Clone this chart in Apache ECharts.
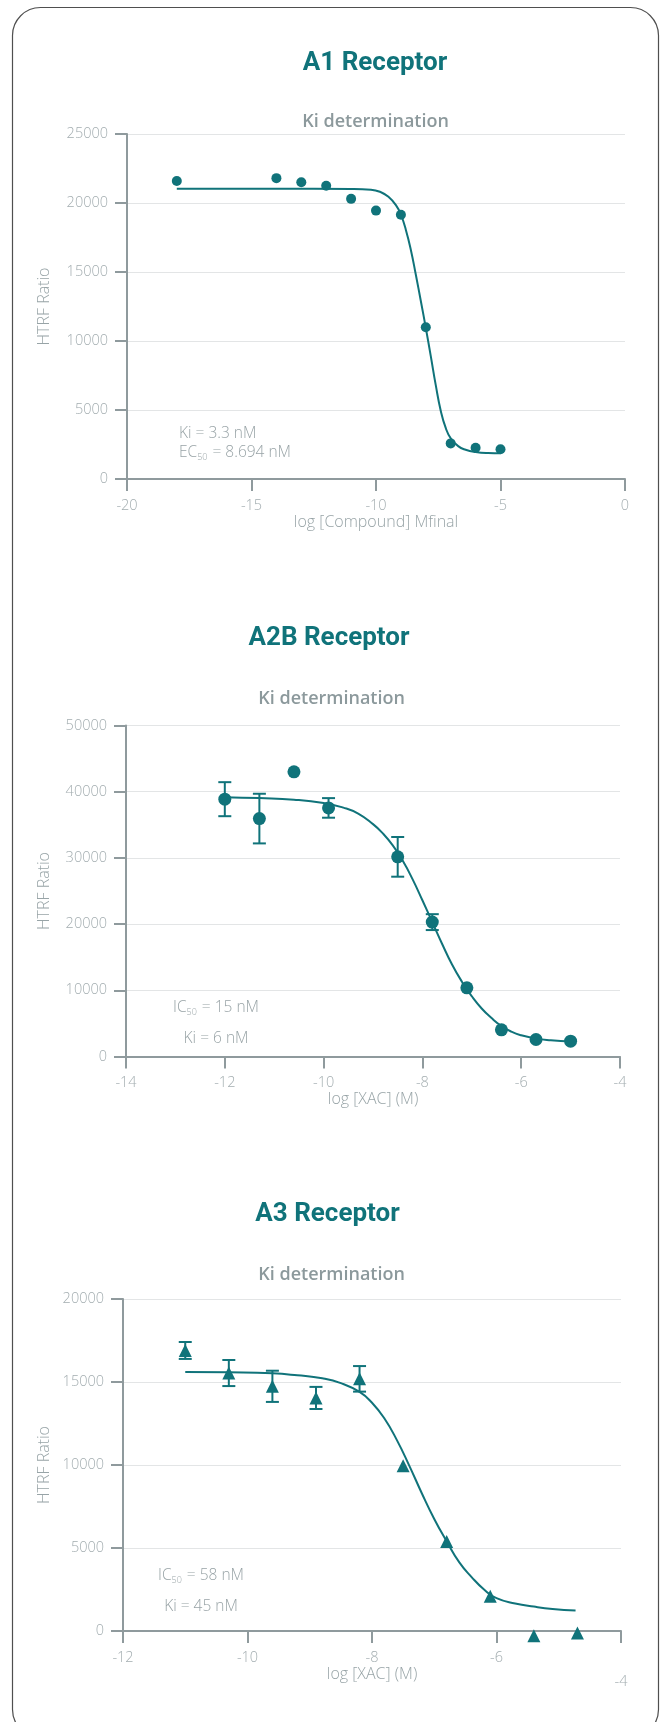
<!DOCTYPE html>
<html>
<head>
<meta charset="utf-8">
<title>Adenosine receptor Ki determination</title>
<script src="https://cdn.jsdelivr.net/npm/echarts@6.0.0/dist/echarts.min.js"></script>
<style>
  html, body { margin: 0; padding: 0; background: #ffffff; }
  #chart { width: 664px; height: 1722px; }
</style>
</head>
<body>
<div id="chart"></div>
<script>
// ---------- A1 receptor ----------
const a1XTicks = [-20, -15, -10, -5, 0];
const a1YTicks = [0, 5000, 10000, 15000, 20000, 25000];
const a1Log = [-18, -14, -13, -12, -11, -10, -9, -8, -7, -6, -5];
const a1Ratio = [21600, 21800, 21500, 21250, 20300, 19450, 19150, 11000, 2580, 2270, 2150];
const a1FitLog = [-18, -14, -11, -10.2, -9.8, -9.5, -9.2, -9.0, -8.8, -8.6, -8.4, -8.2, -8.0, -7.8, -7.6, -7.4, -7.2, -7.0, -6.7, -6.4, -6.0, -5.5, -5.0];
const a1FitRatio = [21040, 21030, 21010, 20960, 20780, 20450, 19850, 19150, 18050, 16600, 14800, 12900, 10950, 8900, 6800, 4950, 3700, 2950, 2380, 2120, 1960, 1880, 1860];

// ---------- A2B receptor ----------
const a2bXTicks = [-14, -12, -10, -8, -6, -4];
const a2bYTicks = [0, 10000, 20000, 30000, 40000, 50000];
const a2bLog = [-12, -11.3, -10.6, -9.9, -8.5, -7.8, -7.1, -6.4, -5.7, -5.0];
const a2bRatio = [38870, 35940, 43000, 37550, 30160, 20300, 10380, 4030, 2570, 2320];
const a2bSd = [2570, 3750, null, 1480, 3000, 1200, null, null, null, null];
const a2bFitLog = [-12, -11.3, -10.6, -10.0, -9.6, -9.3, -9.0, -8.8, -8.6, -8.4, -8.2, -8.0, -7.8, -7.6, -7.4, -7.2, -7.0, -6.8, -6.6, -6.4, -6.2, -6.0, -5.7, -5.4, -5.0];
const a2bFitRatio = [39170, 39030, 38800, 38300, 37600, 36700, 35100, 33700, 31900, 29600, 26800, 23600, 20300, 17000, 13900, 11300, 9100, 7250, 5800, 4600, 3750, 3200, 2700, 2450, 2270];

// ---------- A3 receptor ----------
const a3XTicks = [-12, -10, -8, -6, -4];
const a3YTicks = [0, 5000, 10000, 15000, 20000];
const a3Log = [-11, -10.3, -9.6, -8.9, -8.2, -7.5, -6.8, -6.1, -5.4, -4.7];
const a3Ratio = [16900, 15540, 14740, 14040, 15190, 9960, 5390, 2100, -290, -120];
const a3Sd = [510, 785, 940, 665, 770, null, null, null, null, null];
const a3FitLog = [-11, -10.3, -9.6, -9.2, -8.8, -8.5, -8.2, -8.0, -7.8, -7.6, -7.4, -7.2, -7.0, -6.8, -6.6, -6.4, -6.2, -6.0, -5.7, -5.4, -5.1, -4.73];
const a3FitRatio = [15600, 15580, 15520, 15400, 15220, 14930, 14400, 13750, 12800, 11500, 9950, 8300, 6750, 5400, 4150, 3250, 2500, 1980, 1660, 1470, 1330, 1240];

// ---------- styling ----------
const TEAL = '#10737a';
const AXIS = '#8f9a9d';
const GRIDLINE = '#e3e5e6';
const LABEL = '#a3adb0';
const NAME = '#98a4a7';
const NOTE = '#98a3a6';
const SUB = '#8c999c';
const SANS = '"Open Sans", "Noto Sans", sans-serif';
const TITLE_FONT = 'Roboto, "Open Sans", sans-serif';

const zip = (xs, ys) => xs.map((x, i) => [x, ys[i]]);
const bars = (xs, ys, sd) => xs
  .map((x, i) => (sd[i] == null ? null : [x, ys[i] - sd[i], ys[i] + sd[i]]))
  .filter(Boolean);

const panels = [
  {
    title: 'A1 Receptor', titleX: 375, titleY: 63, subX: 375.6, subY: 122,
    grid: { left: 127, top: 134, width: 498, height: 345 },
    xTicks: a1XTicks, yTicks: a1YTicks, xName: 'log [Compound] Mfinal', yNameGap: 75,
    points: zip(a1Log, a1Ratio), fit: zip(a1FitLog, a1FitRatio), errors: [],
    symbol: 'circle', symbolSize: 10,
    notes: [
      { text: 'Ki = 3.3 nM', x: 179, y: 434, align: 'left' },
      { text: 'EC{s|50} = 8.694 nM', x: 179, y: 453, align: 'left' }
    ]
  },
  {
    title: 'A2B Receptor', titleX: 329, titleY: 638.5, subX: 331.6, subY: 699,
    grid: { left: 126, top: 725.5, width: 494, height: 331 },
    xTicks: a2bXTicks, yTicks: a2bYTicks, xName: 'log [XAC] (M)', yNameGap: 74,
    points: zip(a2bLog, a2bRatio), fit: zip(a2bFitLog, a2bFitRatio), errors: bars(a2bLog, a2bRatio, a2bSd),
    symbol: 'circle', symbolSize: 13,
    notes: [
      { text: 'IC{s|50} = 15 nM', x: 216, y: 1007.5, align: 'center' },
      { text: 'Ki = 6 nM', x: 216, y: 1039, align: 'center' }
    ]
  },
  {
    title: 'A3 Receptor', titleX: 327.5, titleY: 1214, subX: 331.6, subY: 1275,
    grid: { left: 123, top: 1299, width: 498, height: 332 },
    xTicks: a3XTicks, yTicks: a3YTicks, xName: 'log [XAC] (M)', yNameGap: 71,
    points: zip(a3Log, a3Ratio), fit: zip(a3FitLog, a3FitRatio), errors: bars(a3Log, a3Ratio, a3Sd),
    symbol: 'triangle', symbolSize: 13,
    lowLastLabel: true,
    notes: [
      { text: 'IC{s|50} = 58 nM', x: 201, y: 1575.5, align: 'center' },
      { text: 'Ki = 45 nM', x: 201, y: 1606.5, align: 'center' }
    ]
  }
];

function errorBarItem(params, api) {
  const x = api.value(0);
  const lo = api.coord([x, api.value(1)]);
  const hi = api.coord([x, api.value(2)]);
  const w = 6.5;
  const style = { stroke: TEAL, lineWidth: 2, fill: null };
  return {
    type: 'group',
    children: [
      { type: 'line', shape: { x1: lo[0], y1: lo[1], x2: hi[0], y2: hi[1] }, style },
      { type: 'line', shape: { x1: hi[0] - w, y1: hi[1], x2: hi[0] + w, y2: hi[1] }, style },
      { type: 'line', shape: { x1: lo[0] - w, y1: lo[1], x2: lo[0] + w, y2: lo[1] }, style }
    ]
  };
}

const labelText = { color: LABEL, fontSize: 14.5, fontFamily: SANS, fontWeight: 300 };

const option = {
  backgroundColor: '#ffffff',
  animation: false,
  title: panels.flatMap((p) => [
    {
      text: p.title, left: p.titleX, top: p.titleY, padding: 0,
      textAlign: 'center', textVerticalAlign: 'middle',
      textStyle: { fontFamily: TITLE_FONT, fontWeight: 'bold', fontSize: 26, color: TEAL }
    },
    {
      text: 'Ki determination', left: p.subX, top: p.subY, padding: 0,
      textAlign: 'center', textVerticalAlign: 'middle',
      textStyle: { fontFamily: SANS, fontWeight: 600, fontSize: 18, color: SUB }
    }
  ]),
  grid: panels.map((p) => Object.assign({ containLabel: false, outerBoundsMode: 'none' }, p.grid)),
  xAxis: panels.map((p, i) => ({
    type: 'value', gridIndex: i,
    min: p.xTicks[0], max: p.xTicks[p.xTicks.length - 1], interval: p.xTicks[1] - p.xTicks[0],
    name: p.xName, nameLocation: 'middle', nameGap: 35, nameMoveOverlap: false,
    nameTextStyle: { color: NAME, fontSize: 16, fontFamily: SANS, fontWeight: 300 },
    axisLine: { show: true, onZero: false, lineStyle: { color: AXIS, width: 2 } },
    axisTick: { show: true, length: 12, lineStyle: { color: AXIS, width: 2 } },
    axisLabel: Object.assign({}, labelText, {
      margin: 19,
      formatter: p.lowLastLabel
        ? (v) => (v === p.xTicks[p.xTicks.length - 1] ? '{low|' + v + '}' : String(v))
        : (v) => String(v),
      rich: { low: Object.assign({}, labelText, { padding: [24, 0, 0, 0] }) }
    }),
    splitLine: { show: false }
  })),
  yAxis: panels.map((p, i) => ({
    type: 'value', gridIndex: i,
    min: p.yTicks[0], max: p.yTicks[p.yTicks.length - 1], interval: p.yTicks[1] - p.yTicks[0],
    name: 'HTRF Ratio', nameLocation: 'middle', nameGap: p.yNameGap, nameMoveOverlap: false,
    nameTextStyle: { color: NAME, fontSize: 16, fontFamily: SANS, fontWeight: 300 },
    axisLine: { show: true, onZero: false, lineStyle: { color: AXIS, width: 2 } },
    axisTick: { show: true, length: 12, lineStyle: { color: AXIS, width: 2 } },
    axisLabel: Object.assign({}, labelText, { margin: 19, formatter: (v) => String(v) }),
    splitLine: { show: true, lineStyle: { color: GRIDLINE, width: 1 } }
  })),
  series: panels.flatMap((p, i) => {
    const list = [
      {
        type: 'line', name: p.title + ' fit', xAxisIndex: i, yAxisIndex: i,
        data: p.fit, smooth: 0.5, showSymbol: false, symbol: 'none',
        lineStyle: { color: TEAL, width: 2 }, silent: true, z: 2
      },
      {
        type: 'scatter', name: p.title, xAxisIndex: i, yAxisIndex: i,
        data: p.points, symbol: p.symbol, symbolSize: p.symbolSize, clip: false,
        itemStyle: { color: TEAL, opacity: 1 }, z: 4
      }
    ];
    if (p.errors.length) {
      list.push({
        type: 'custom', name: p.title + ' SD', xAxisIndex: i, yAxisIndex: i,
        data: p.errors, encode: { x: 0, y: [1, 2] }, renderItem: errorBarItem, z: 3, silent: true
      });
    }
    return list;
  }),
  graphic: [
    {
      type: 'rect', z: 0, silent: true,
      shape: { x: 12.5, y: 7.5, width: 646, height: 1730, r: 28 },
      style: { fill: null, stroke: '#4f4f4f', lineWidth: 1.2 }
    }
  ].concat(panels.flatMap((p) => p.notes.map((n) => ({
    type: 'text', z: 5, silent: true,
    style: {
      text: n.text, x: n.x, y: n.y,
      textAlign: n.align, align: n.align, textVerticalAlign: 'middle', verticalAlign: 'middle',
      fill: NOTE, fontSize: 15.5, fontFamily: SANS, fontWeight: 300,
      font: '300 15.5px ' + SANS,
      rich: { s: { fill: NOTE, fontSize: 9, fontFamily: SANS, fontWeight: 300, font: '300 9px ' + SANS, padding: [9, 1, 0, 0] } }
    }
  }))))
};

const chart = echarts.init(document.getElementById('chart'), null, { renderer: 'canvas', width: 664, height: 1722 });
chart.setOption(option);
</script>
</body>
</html>
